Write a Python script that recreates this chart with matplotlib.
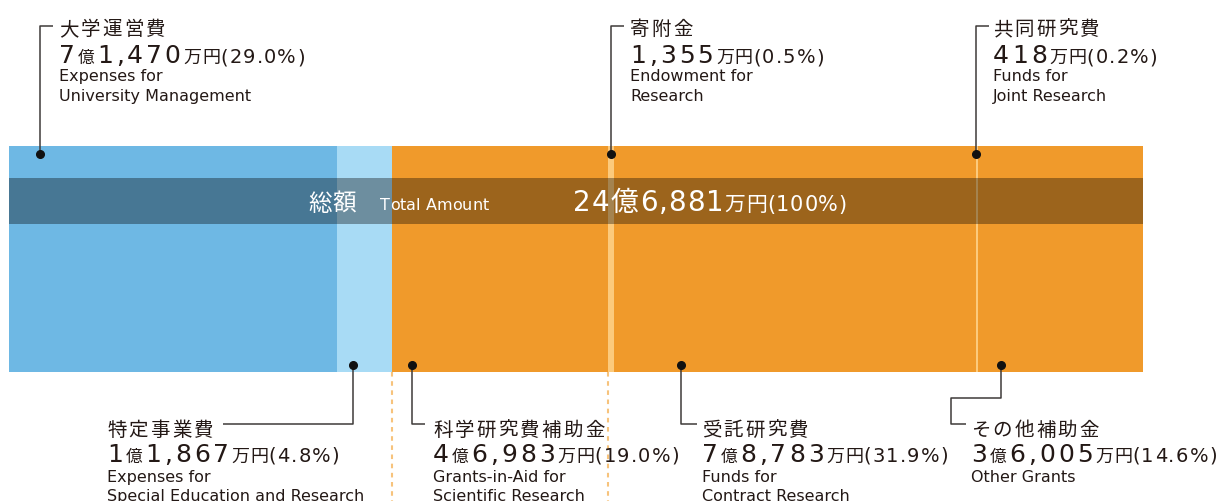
import matplotlib
matplotlib.use('Agg')
import matplotlib.pyplot as plt

# 収入内訳（単位：万円）
names_ja = ['大学運営費', '特定事業費', '科学研究費補助金', '寄附金',
            '受託研究費', '共同研究費', 'その他補助金']
names_en = [['Expenses for', 'University Management'],
            ['Expenses for', 'Special Education and Research'],
            ['Grants-in-Aid for', 'Scientific Research'],
            ['Endowment for', 'Research'],
            ['Funds for', 'Contract Research'],
            ['Funds for', 'Joint Research'],
            ['Other Grants']]
amounts = [71470, 11867, 46983, 1355, 78783, 418, 36005]
shares = [29.0, 4.8, 19.0, 0.5, 31.9, 0.2, 14.6]
total = 246881
total_share = 100

colors = ['#6eb8e4', '#a8dbf5', '#f09a2b', '#fcca7c',
          '#f09a2b', '#fcca7c', '#f09a2b']

INK = '#231815'
LEAD = '#3e3a39'
CJK = ['Noto Sans CJK JP', 'DejaVu Sans']
LAT = ['DejaVu Sans']

W, H = 1220, 502
fig = plt.figure(figsize=(W / 100, H / 100), dpi=100)

# --- bar ---
ax_bar = fig.add_axes([9 / W, 1 - 373 / H, 1134 / W, 226 / H])
lefts = [sum(amounts[:i]) for i in range(len(amounts))]
ax_bar.barh(0.5, amounts, left=lefts, height=1, color=colors, linewidth=0)
ax_bar.set_xlim(0, total)
ax_bar.set_ylim(0, 1)
ax_bar.axis('off')
# dark band for the total
ax_bar.axhspan((373 - 225) / 226, (373 - 179) / 226, color='black', alpha=0.35, lw=0)
# dotted guides at the edges of 科学研究費補助金
for xv in (lefts[2], lefts[2] + amounts[2]):
    ax_bar.plot([xv, xv], [0, -130 / 226], color='#f7c37c', lw=1.5,
                ls=(0, (2.2, 2.2)), clip_on=False)

# --- overlay in pixel units for labels ---
ax = fig.add_axes([0, 0, 1, 1])
ax.set_xlim(0, W)
ax.set_ylim(H, 0)
ax.axis('off')
renderer = fig.canvas.get_renderer()


def run(x, y, parts, color=INK):
    # draw pieces char by char with a little tracking
    for s, size, fam, track in parts:
        for ch in s:
            t = ax.text(x, y, ch, fontsize=size, family=fam, color=color,
                        ha='left', va='baseline')
            x += t.get_window_extent(renderer).width + track
    return x


def money_parts(amount, pct, big, oku, man, pc, track=3):
    parts = []
    if amount >= 10000:
        parts.append((str(amount // 10000), big, LAT, track))
        parts.append(('億', oku, CJK, 2.5))
    parts.append(('{:,}'.format(amount % 10000), big, LAT, track))
    parts.append(('万円', man, CJK, 0.5))
    parts.append(('({}%)'.format(pct), pc, LAT, 1.2))
    return parts


# label placement: leader path (dot first), text x, top/bottom
layout = {
    0: ([(40, 155), (40, 27), (53, 27)], 59, 'top'),
    1: ([(353, 366), (353, 425), (223, 425)], 107, 'bottom'),
    2: ([(412, 366), (412, 425), (425, 425)], 433, 'bottom'),
    3: ([(611, 155), (611, 27), (624, 27)], 630, 'top'),
    4: ([(681, 366), (681, 425), (697, 425)], 702, 'bottom'),
    5: ([(976, 155), (976, 27), (989, 27)], 993, 'top'),
    6: ([(1001, 366), (1001, 399), (951, 399), (951, 425), (966, 425)], 971, 'bottom'),
}

for i, (path, tx, side) in layout.items():
    xs, ys = zip(*path)
    ax.plot(xs, ys, color=LEAD, lw=1.1, solid_capstyle='butt')
    ax.plot(xs[0], ys[0], 'o', color='#111111', ms=5.5)
    if side == 'top':
        y_title, y_num, y_en, step = 35, 63, 81, 20
    else:
        y_title, y_num, y_en, step = 436, 462, 482, 19
    run(tx, y_title, [(names_ja[i], 14, CJK, 2.2)])
    run(tx, y_num, money_parts(amounts[i], shares[i], 18, 12, 13, 14))
    for k, line in enumerate(names_en[i]):
        ax.text(tx, y_en + step * k, line, fontsize=11.5, family=LAT, color=INK,
                ha='left', va='baseline')

# total inside the band
run(308, 211, [('総額', 17, CJK, 1)], color='white')
run(380, 210, [('Total Amount', 11.5, LAT, 0)], color='white')
run(573, 211, [(str(total // 10000), 20, LAT, 1), ('億', 20, CJK, 2),
               ('{:,}'.format(total % 10000), 20, LAT, 1), ('万円', 15, CJK, 0.5),
               ('({}%)'.format(total_share), 15, LAT, 0.8)], color='white')

fig.savefig('out.png', dpi=100)
